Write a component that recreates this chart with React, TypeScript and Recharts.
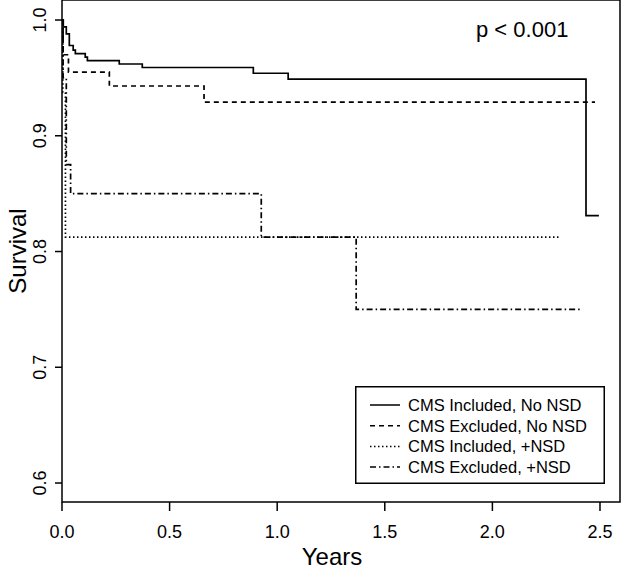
import React from 'react';
import { LineChart, Line, XAxis, YAxis, ReferenceArea, Legend, Customized, Label } from 'recharts';

const xTicks = [0, 0.5, 1, 1.5, 2, 2.5];
const yTicks = [0.6, 0.7, 0.8, 0.9, 1.0];
const seriesNames = ['CMS Included, No NSD', 'CMS Excluded, No NSD', 'CMS Included, +NSD', 'CMS Excluded, +NSD'];

const inclNoNsdTimes = [0, 0.006, 0.02, 0.034, 0.052, 0.062, 0.108, 0.118, 0.266, 0.373, 0.889, 1.051, 2.435, 2.495];
const inclNoNsdSurv = [1.0, 0.994, 0.988, 0.978, 0.974, 0.971, 0.968, 0.965, 0.962, 0.959, 0.954, 0.949, 0.831, 0.831];

const exclNoNsdTimes = [0, 0.005, 0.03, 0.22, 0.66, 2.477];
const exclNoNsdSurv = [1.0, 0.97, 0.955, 0.943, 0.929, 0.929];

const inclNsdTimes = [0, 0.004, 0.016, 2.315];
const inclNsdSurv = [1.0, 0.9375, 0.8125, 0.8125];

const exclNsdTimes = [0, 0.005, 0.02, 0.04, 0.926, 1.367, 2.407];
const exclNsdSurv = [1.0, 0.95, 0.875, 0.85, 0.8125, 0.75, 0.75];

const X_DOMAIN: [number, number] = [0, 2.593];
const Y_DOMAIN: [number, number] = [0.5836, 1.0173];

const toPoints = (t: number[], s: number[]) => t.map((x, i) => ({ x, s: s[i] }));

const series = [
  { name: seriesNames[0], data: toPoints(inclNoNsdTimes, inclNoNsdSurv), dash: undefined as string | undefined },
  { name: seriesNames[1], data: toPoints(exclNoNsdTimes, exclNoNsdSurv), dash: '5 4' },
  { name: seriesNames[2], data: toPoints(inclNsdTimes, inclNsdSurv), dash: '1.5 2.5' },
  { name: seriesNames[3], data: toPoints(exclNsdTimes, exclNsdSurv), dash: '6 3 1.5 3' },
];

const FONT = '"Liberation Sans", Arial, Helvetica, sans-serif';

const YTick = (props: any) => {
  const { y, payload } = props;
  const x = 46;
  return (
    <text x={x} y={y} transform={`rotate(-90, ${x}, ${y})`} textAnchor="middle" fontSize={18} fontFamily={FONT} fill="#000">
      {Number(payload.value).toFixed(1)}
    </text>
  );
};

const renderLegend = () => (
  <svg width={250} height={98} style={{ display: 'block' }}>
    <rect x={0.75} y={0.75} width={248.5} height={96.5} fill="#fff" stroke="#000" strokeWidth={1.5} />
    {series.map((s, i) => {
      const cy = 19 + i * 20.7;
      return (
        <g key={s.name}>
          <line x1={15} x2={45} y1={cy} y2={cy} stroke="#000" strokeWidth={1.5} strokeDasharray={s.dash} />
          <text x={53} y={cy + 6} fontSize={16.5} fontFamily={FONT} fill="#000">{s.name}</text>
        </g>
      );
    })}
  </svg>
);

const PValue = () => (
  <text x={476} y={37} fontSize={22} fontFamily={FONT} fill="#000">p &lt; 0.001</text>
);

export default function App() {
  return (
    <div style={{ position: 'absolute', left: 0, top: 0, width: 622, height: 569, background: '#fff' }}>
      <LineChart width={622} height={569} margin={{ top: 0, right: 2, left: 0, bottom: 0 }}>
        <XAxis
          type="number"
          dataKey="x"
          domain={X_DOMAIN}
          ticks={xTicks}
          allowDataOverflow
          axisLine={false}
          tickLine={{ stroke: '#000', strokeWidth: 1.5 }}
          tickSize={9}
          tickMargin={14}
          height={67}
          tickFormatter={(v: number) => v.toFixed(1)}
          tick={{ fontSize: 18, fontFamily: FONT, fill: '#000' }}
        >
          <Label value="Years" position="insideBottom" offset={4} dx={-9} fontSize={24} fontFamily={FONT} fill="#000" />
        </XAxis>
        <YAxis
          type="number"
          domain={Y_DOMAIN}
          ticks={yTicks}
          allowDataOverflow
          axisLine={false}
          tickLine={{ stroke: '#000', strokeWidth: 1.5 }}
          tickSize={7}
          width={62}
          tick={<YTick />}
        >
          <Label value="Survival" angle={-90} position="center" dx={-14} fontSize={24} fontFamily={FONT} fill="#000" />
        </YAxis>
        <ReferenceArea x1={X_DOMAIN[0]} x2={X_DOMAIN[1]} y1={Y_DOMAIN[0]} y2={Y_DOMAIN[1]} fill="none" fillOpacity={0} stroke="#000" strokeWidth={1.5} ifOverflow="visible" />
        {series.map((s) => (
          <Line
            key={s.name}
            name={s.name}
            data={s.data}
            dataKey="s"
            type="stepAfter"
            dot={false}
            activeDot={false}
            stroke="#000"
            strokeWidth={1.7}
            strokeDasharray={s.dash}
            isAnimationActive={false}
          />
        ))}
        <Legend
          layout="horizontal"
          verticalAlign="middle"
          align="center"
          content={renderLegend}
          wrapperStyle={{ position: 'absolute', left: 355, top: 386, width: 250, height: 98 }}
        />
        <Customized component={PValue} />
      </LineChart>
    </div>
  );
}
